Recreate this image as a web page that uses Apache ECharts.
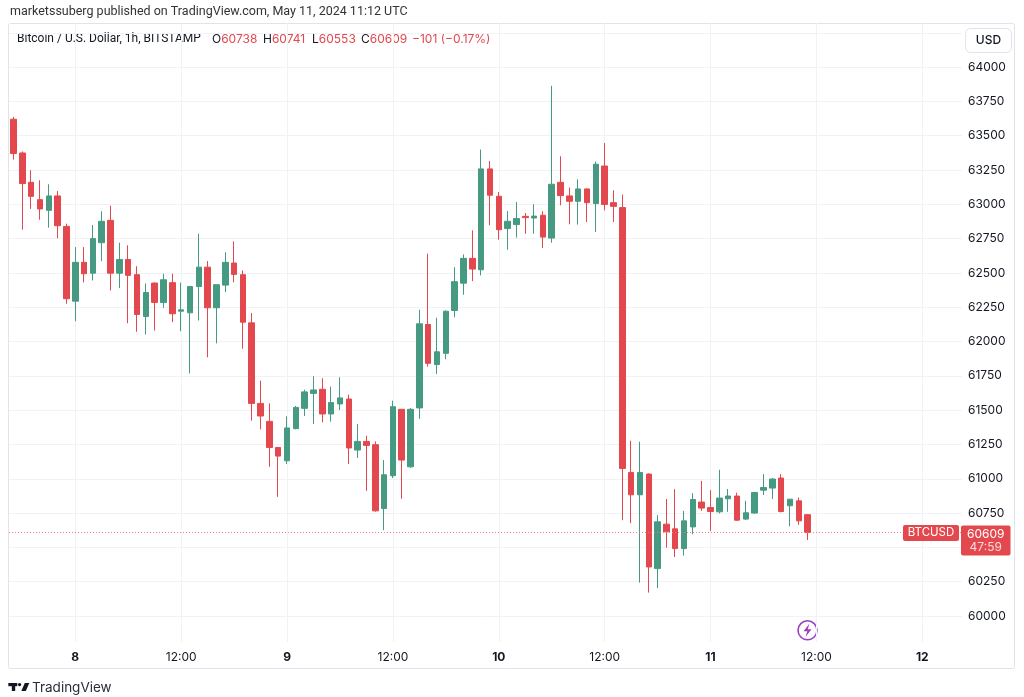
<!DOCTYPE html>
<html>
<head>
<meta charset="utf-8">
<script src="https://cdn.jsdelivr.net/npm/echarts@6/dist/echarts.min.js"></script>
<style>
  html, body { margin: 0; padding: 0; background: #fff; }
  #chart { width: 1024px; height: 697px; }
</style>
</head>
<body>
<div id="chart"></div>
<script>
  // BTCUSD 1h, Bitstamp, first candle May 7 17:00 UTC
  var slotCount = 108; // hours on the time scale (candles + empty right margin)

  var opens = [63620, 63374, 63160, 63034, 62956, 63061, 62839, 62294, 62577, 62498,
               62720, 62883, 62498, 62598, 62487, 62182, 62426, 62285, 62429, 62221,
               62209, 62401, 62542, 62246, 62411, 62572, 62487, 62136, 61549, 61418,
               61228, 61131, 61365, 61513, 61622, 61652, 61472, 61545, 61581, 61209,
               61272, 61248, 60783, 61022, 61506, 61087, 61516, 62124, 61832, 61914,
               62226, 62425, 62606, 62523, 63258, 63058, 62823, 62852, 62912, 62900,
               62920, 62754, 63160, 63061, 63022, 63112, 63005, 63279, 63012, 62976,
               61046, 60883, 61034, 60345, 60669, 60635, 60491, 60649, 60830, 60790,
               60759, 60854, 60874, 60706, 60750, 60917, 60932, 61005, 60803, 60839,
               60738];
  var closes = [63370, 63151, 63058, 62966, 63061, 62844, 62312, 62577, 62494, 62750,
                62876, 62498, 62598, 62482, 62197, 62357, 62285, 62450, 62202, 62231,
                62401, 62542, 62246, 62414, 62577, 62489, 62141, 61549, 61457, 61228,
                61165, 61370, 61520, 61633, 61647, 61472, 61555, 61589, 61224, 61272,
                61243, 60766, 61029, 61525, 61136, 61506, 62129, 61841, 61925, 62221,
                62436, 62606, 62528, 63258, 63066, 62815, 62876, 62896, 62903, 62914,
                62761, 63146, 63063, 63022, 63112, 63012, 63292, 62999, 62985, 61075,
                60883, 61046, 60357, 60686, 60613, 60491, 60693, 60849, 60786, 60761,
                60859, 60874, 60698, 60752, 60900, 60936, 60998, 60761, 60851, 60693,
                60609];
  var lows = [63326, 62815, 62966, 62888, 62830, 62752, 62275, 62148, 62431, 62445,
              62586, 62372, 62389, 62133, 62071, 62051, 62080, 62246, 62141, 62075,
              61768, 62153, 61885, 61987, 62360, 62431, 61947, 61423, 61360, 61087,
              60868, 61107, 61360, 61457, 61399, 61411, 61416, 61501, 61107, 61151,
              60912, 60760, 60625, 61005, 60854, 61080, 61436, 61817, 61764, 61871,
              62177, 62341, 62440, 62482, 62847, 62742, 62669, 62757, 62786, 62786,
              62681, 62720, 62993, 62854, 62852, 62871, 62798, 62956, 62871, 60698,
              60676, 60243, 60170, 60202, 60498, 60430, 60440, 60596, 60766, 60620,
              60747, 60759, 60693, 60700, 60745, 60881, 60852, 60755, 60654, 60664,
              60553];
  var highs = [63637, 63385, 63248, 63175, 63146, 63097, 62859, 62688, 62688, 62849,
               62949, 62990, 62720, 62701, 62549, 62423, 62430, 62494, 62494, 62429,
               62401, 62786, 62586, 62414, 62650, 62730, 62518, 62207, 61715, 61549,
               61228, 61455, 61530, 61649, 61747, 61732, 61671, 61739, 61613, 61399,
               61314, 61272, 61136, 61569, 61506, 61515, 62231, 62640, 62173, 62226,
               62542, 62635, 62810, 63399, 63316, 63090, 62951, 63017, 62936, 63000,
               62949, 63863, 63350, 63122, 63182, 63115, 63312, 63447, 63102, 63071,
               61277, 61270, 61039, 60735, 60852, 60924, 60766, 60895, 60985, 60917,
               61065, 60925, 60898, 60839, 60905, 61034, 61005, 61034, 60851, 60863,
               60741];

  var xTickHours = [7, 19, 31, 43, 55, 67, 79, 91, 103];
  var xTickLabels = ['8', '12:00', '9', '12:00', '10', '12:00', '11', '12:00', '12'];
  var xTickBold = [true, false, true, false, true, false, true, false, true];

  var change = '\u2212101 (\u22120.17%)';
  var countdown = '47:59';

  var up = '#479a82', down = '#e3484e', gridCol = '#f0f2f6', txt = '#131722';
  var fontFam = 'Inter, "Noto Sans", sans-serif';
  var headFam = 'Roboto, "Noto Sans", sans-serif';

  var hours = [];
  for (var i = 0; i < slotCount; i++) hours.push(String(i));
  var halfSlots = [];
  for (var j = 0; j <= slotCount * 2; j++) halfSlots.push(String(j));

  function tickAt(j) {
    if (j % 2 === 0) return -1;
    return xTickHours.indexOf((j - 1) / 2);
  }

  var candles = opens.map(function (o, k) {
    return [o, closes[k], lows[k], highs[k]];
  });
  var last = candles.length - 1;

  var dom = document.getElementById('chart');
  var myChart = echarts.init(dom);

  function ohlcText(x, key, val) {
    return {
      type: 'text', x: x, y: 39,
      style: {
        text: '{k|' + key + '}{v|' + val + '}',
        verticalAlign: 'middle',
        rich: {
          k: { fill: txt, fontSize: 12, fontFamily: fontFam },
          v: { fill: down, fontSize: 12, fontFamily: fontFam }
        }
      }
    };
  }

  var option = {
    animation: false,
    backgroundColor: '#fff',
    grid: [
      { left: 9.1, right: 62, top: 23, bottom: 55 },
      { left: 9.1, right: 62, top: 32.75, bottom: 81 }
    ],
    xAxis: [
      { type: 'category', gridIndex: 0, data: hours, boundaryGap: true, show: false },
      {
        type: 'category', gridIndex: 0, position: 'bottom', data: halfSlots, boundaryGap: false,
        axisLine: { show: false }, axisTick: { show: false },
        axisLabel: {
          interval: function (idx) { return tickAt(idx) >= 0; },
          margin: 9,
          formatter: function (v, idx) {
            var k = tickAt(idx);
            if (k < 0) return '';
            return (xTickBold[k] ? '{b|' : '{n|') + xTickLabels[k] + '}';
          },
          rich: {
            b: { fontWeight: 'bold', fontSize: 12, fontFamily: fontFam, color: txt },
            n: { fontSize: 12, fontFamily: fontFam, color: txt }
          }
        },
        splitLine: {
          show: true,
          interval: function (idx) { return tickAt(idx) >= 0; },
          lineStyle: { color: gridCol, width: 1 }
        }
      },
      { type: 'value', gridIndex: 1, show: false }
    ],
    yAxis: [
      { type: 'value', gridIndex: 0, min: 59810.22, max: 64321.17, show: false },
      {
        type: 'value', gridIndex: 1, position: 'right',
        min: 60000, max: 64250, interval: 250,
        axisLine: { show: false }, axisTick: { show: false },
        axisLabel: {
          margin: 6, color: txt, fontSize: 12, fontFamily: fontFam,
          formatter: function (v) { return v >= 64250 ? '' : String(v); }
        },
        splitLine: { show: true, lineStyle: { color: gridCol, width: 1 } }
      }
    ],
    series: [
      {
        type: 'candlestick',
        xAxisIndex: 0, yAxisIndex: 0,
        barWidth: 6,
        data: candles,
        itemStyle: {
          color: up, color0: down,
          borderColor: up, borderColor0: down,
          borderWidth: 1
        },
        markLine: {
          silent: true,
          symbol: ['none', 'none'],
          label: { show: false },
          lineStyle: { color: '#ee7a7e', type: [1, 2], width: 1 },
          data: [{ yAxis: closes[last] }]
        }
      }
    ],
    graphic: [
      {
        type: 'rect', id: 'frame',
        shape: { x: 8.5, y: 23.5, width: 1006, height: 645, r: 2 },
        style: { fill: 'none', stroke: '#e0e3eb', lineWidth: 1 }
      },
      {
        type: 'text', x: 10, y: 12,
        style: {
          text: 'marketssuberg published on TradingView.com, May 11, 2024 11:12 UTC',
          fill: '#333', fontSize: 12.5, fontFamily: headFam, verticalAlign: 'middle'
        }
      },
      {
        type: 'text', x: 17, y: 39,
        style: {
          text: 'Bitcoin / U.S. Dollar, 1h, BITSTAMP',
          fill: txt, fontSize: 12, fontFamily: headFam, verticalAlign: 'middle'
        }
      },
      ohlcText(212, 'O', opens[last]),
      ohlcText(263, 'H', highs[last]),
      ohlcText(312, 'L', lows[last]),
      ohlcText(361, 'C', closes[last]),
      {
        type: 'text', x: 412, y: 39,
        style: { text: change, fill: down, fontSize: 12, fontFamily: fontFam, verticalAlign: 'middle' }
      },
      {
        type: 'rect',
        shape: { x: 965.5, y: 28.5, width: 46, height: 24, r: 5 },
        style: { fill: '#fff', stroke: '#e0e3eb', lineWidth: 1 }
      },
      {
        type: 'text', x: 988.5, y: 40.5,
        style: {
          text: 'USD', fill: txt, fontSize: 12, fontWeight: 500, fontFamily: fontFam,
          align: 'center', verticalAlign: 'middle'
        }
      },
      // lightning badge
      {
        type: 'circle', shape: { cx: 807.5, cy: 630.3, r: 9.5 },
        style: { fill: '#fff', stroke: '#9c3fc0', lineWidth: 1.6 }
      },
      {
        type: 'polygon',
        shape: { points: [[809.5, 623.5], [803.5, 631.3], [807.3, 631.3], [805.5, 637], [811.5, 629.3], [807.7, 629.3]] },
        style: { fill: '#9c3fc0' }
      },
      // TradingView logo
      {
        type: 'group', children: [
          { type: 'rect', shape: { x: 8.3, y: 683, width: 9, height: 3.2 }, style: { fill: txt } },
          { type: 'rect', shape: { x: 11.8, y: 683, width: 3.4, height: 8 }, style: { fill: txt } },
          { type: 'circle', shape: { cx: 19.6, cy: 684.6, r: 1.7 }, style: { fill: txt } },
          { type: 'polygon', shape: { points: [[24.8, 683], [29.3, 683], [25.8, 691], [21.3, 691]] }, style: { fill: txt } }
        ]
      },
      {
        type: 'text', x: 32, y: 688,
        style: { text: 'TradingView', fill: '#2a2e39', fontSize: 13.5, fontFamily: fontFam, verticalAlign: 'middle' }
      }
    ]
  };

  if (option && typeof option === 'object') {
    myChart.setOption(option, true);
  }

  // price tags on the last-price line
  var py = myChart.convertToPixel({ yAxisIndex: 0 }, closes[last]);
  myChart.setOption({
    graphic: [
      {
        type: 'rect', id: 'symTag',
        shape: { x: 903, y: py - 7.5, width: 56, height: 16, r: 2 },
        style: { fill: down }, z: 100
      },
      {
        type: 'text', id: 'symTxt', x: 931, y: py + 0.5, z: 101,
        style: { text: 'BTCUSD', fill: '#fff', fontSize: 11.5, fontFamily: fontFam, align: 'center', verticalAlign: 'middle' }
      },
      {
        type: 'rect', id: 'pxTag',
        shape: { x: 961, y: py - 6.8, width: 49.5, height: 30, r: 2 },
        style: { fill: down }, z: 100
      },
      {
        type: 'text', id: 'pxTxt', x: 985.7, y: py + 1.8, z: 101,
        style: { text: String(closes[last]), fill: '#fff', fontSize: 12, fontFamily: fontFam, align: 'center', verticalAlign: 'middle' }
      },
      {
        type: 'text', id: 'cdTxt', x: 985.7, y: py + 15.2, z: 101,
        style: { text: countdown, fill: 'rgba(255,255,255,0.8)', fontSize: 12, fontFamily: fontFam, align: 'center', verticalAlign: 'middle' }
      }
    ]
  });
</script>
</body>
</html>
